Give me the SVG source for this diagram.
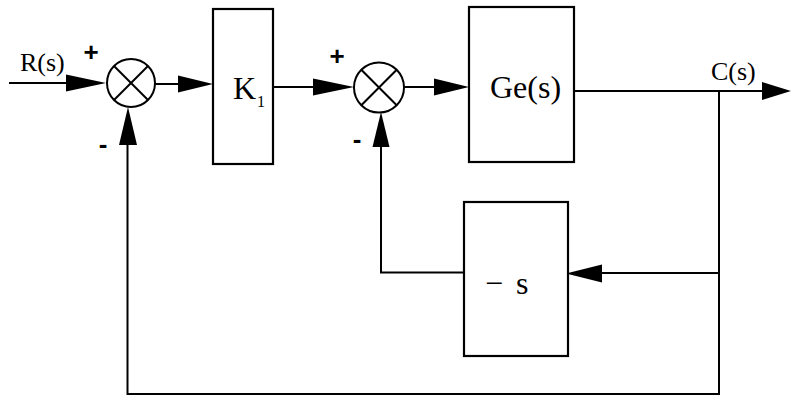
<svg xmlns="http://www.w3.org/2000/svg" width="791" height="396" viewBox="0 0 791 396">
<style>
.ln{fill:none;stroke:#000;stroke-width:2}
.box{fill:#fff;stroke:#000;stroke-width:2.2}
.ah{fill:#000;stroke:none}
.t{font-family:"Liberation Serif","Times New Roman",serif;fill:#000}
.sg{font-family:"Liberation Sans",Arial,sans-serif;font-weight:bold;fill:#000;font-size:26px;text-anchor:middle}
</style>
<rect width="791" height="396" fill="#fff"/>
<g id="connectors">
  <line class="ln" x1="9" y1="83" x2="70" y2="83"/>
  <polygon class="ah" points="66,74.5 106,83 66,91.5"/>
  <line class="ln" x1="155" y1="84" x2="180" y2="84"/>
  <polygon class="ah" points="178,75.5 213,84 178,92.5"/>
  <line class="ln" x1="274" y1="87" x2="316" y2="87"/>
  <polygon class="ah" points="313,78.5 354,87 313,95.5"/>
  <line class="ln" x1="404" y1="87" x2="436" y2="87"/>
  <polygon class="ah" points="434,78.5 469,87 434,95.5"/>
  <line class="ln" x1="574" y1="91" x2="765" y2="91"/>
  <polygon class="ah" points="762,82 791,91 762,100"/>
  <polyline class="ln" points="719,91 719,394 127.5,394 127.5,143"/>
  <polygon class="ah" points="119,145 128,107 137,145"/>
  <line class="ln" x1="719" y1="273" x2="600" y2="273"/>
  <polygon class="ah" points="602,264.5 566,273.5 602,282.5"/>
  <polyline class="ln" points="464,272.5 381,272.5 381,145"/>
  <polygon class="ah" points="372.5,147 381,112 389.5,147"/>
</g>
<g id="sum1">
  <circle class="ln" cx="131" cy="83" r="24"/>
  <line class="ln" x1="114" y1="66" x2="148" y2="100"/>
  <line class="ln" x1="148" y1="66" x2="114" y2="100"/>
  <text class="sg" x="91" y="60.5">+</text>
  <text class="sg" x="103" y="153">-</text>
</g>
<g id="k1">
  <rect class="box" x="213" y="9" width="60" height="155"/>
  <text class="t" x="233" y="99" font-size="32">K<tspan font-size="16" dx="1" dy="8">1</tspan></text>
</g>
<g id="sum2">
  <circle class="ln" cx="379" cy="87.5" r="25"/>
  <line class="ln" x1="361.3" y1="69.8" x2="396.7" y2="105.2"/>
  <line class="ln" x1="396.7" y1="69.8" x2="361.3" y2="105.2"/>
  <text class="sg" x="337" y="65">+</text>
  <text class="sg" x="357" y="148">-</text>
</g>
<g id="ge">
  <rect class="box" x="469" y="7" width="105" height="155"/>
  <text class="t" x="490" y="98" font-size="32">Ge(s)</text>
</g>
<g id="fb">
  <rect class="box" x="464" y="202" width="104" height="154"/>
  <text class="t" x="485" y="294" font-size="32">−<tspan x="516">s</tspan></text>
</g>
<g id="labels">
  <text class="t" x="20" y="71" font-size="26">R(s)</text>
  <text class="t" x="711" y="80" font-size="26">C(s)</text>
</g>
</svg>
